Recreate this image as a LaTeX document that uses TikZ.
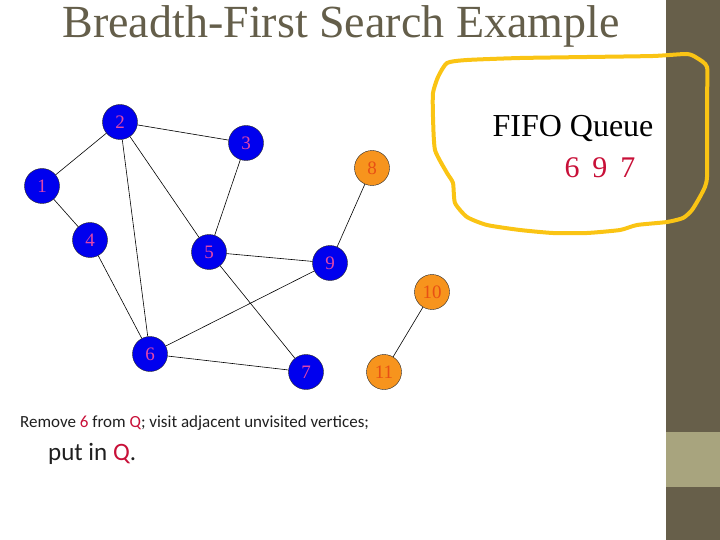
\documentclass[tikz,border=0pt]{standalone}
\usepackage{fontspec}
\setmainfont{Liberation Serif}
\newfontfamily\slidesans{Carlito}
\usepackage{xcolor}
\definecolor{barbrown}{RGB}{103,95,74}
\definecolor{barlight}{RGB}{168,164,126}
\definecolor{titlegray}{RGB}{100,94,74}
\definecolor{blobyellow}{RGB}{250,196,20}
\definecolor{qred}{RGB}{200,16,56}
\definecolor{lblpink}{RGB}{226,70,170}
\definecolor{vblue}{RGB}{0,0,238}
\definecolor{vorange}{RGB}{247,148,29}
\definecolor{lblorange}{RGB}{232,80,20}

\begin{document}
\begin{tikzpicture}[x=1pt,y=-1pt,
  vtx/.style={circle,draw=black!85,fill=vblue,minimum size=35pt,inner sep=0pt,
    text=lblpink,font=\fontsize{19}{19}\selectfont},
  vtxo/.style={vtx,fill=vorange,text=lblorange},
  edge/.style={black,line width=0.6pt}]
\useasboundingbox (0,0) rectangle (720,540);
%%%%%%%%%%%%%%%% side bar
\fill[barbrown] (666,0) rectangle (720,540);
\fill[barlight] (666,432) rectangle (720,487);
%%%%%%%%%%%%%%%% title
\node[text=titlegray,font=\fontsize{46}{46}\selectfont,anchor=base] (title) at (341,38) {Breadth-First Search Example};
%%%%%%%%%%%%%%%% vertices
\node[vtx] (v1) at (42,186) {1};
\node[vtx] (v2) at (120,122) {2};
\node[vtx] (v3) at (246,143) {3};
\node[vtx] (v4) at (90,240) {4};
\node[vtx] (v5) at (209,252) {5};
\node[vtx] (v6) at (150,354) {6};
\node[vtx] (v7) at (306,372) {7};
\node[vtxo] (v8) at (372,168) {8};
\node[vtx] (v9) at (330,263) {9};
\node[vtxo] (v10) at (432,292) {10};
\node[vtxo] (v11) at (384,372) {11};
%%%%%%%%%%%%%%%% edges
\draw[edge] (v1) -- (v2);
\draw[edge] (v1) -- (v4);
\draw[edge] (v2) -- (v3);
\draw[edge] (v2) -- (v5);
\draw[edge] (v2) -- (v6);
\draw[edge] (v3) -- (v5);
\draw[edge] (v4) -- (v6);
\draw[edge] (v5) -- (v9);
\draw[edge] (v5) -- (v7);
\draw[edge] (v6) -- (v9);
\draw[edge] (v6) -- (v7);
\draw[edge] (v8) -- (v9);
\draw[edge] (v10) -- (v11);
%%%%%%%%%%%%%%%% queue
\draw[blobyellow,line width=4pt,line join=round]
  plot[smooth cycle,tension=0.35] coordinates{(447,63) (467,60) (520,58) (587,57) (653,56)
  (687,54) (697,58) (707,67) (707,100) (707,177) (702,193) (692,210) (683,218)
  (667,222) (637,225) (620,230) (587,233) (553,233) (520,230) (487,225) (467,217)
  (455,203) (453,183) (447,173) (435,150) (433,117) (433,93) (438,77)};
\node[font=\fontsize{32}{32}\selectfont,anchor=base] (fifo) at (573,137) {FIFO Queue};
\node[text=qred,font=\fontsize{30}{30}\selectfont,anchor=base] (queue) at (600,178) {6\hspace{13pt}9\hspace{13pt}7};
%%%%%%%%%%%%%%%% caption
\node[font=\slidesans\fontsize{17}{17}\selectfont,anchor=base west,inner sep=0pt,text=black!88] (step) at (20,427)
  {Remove {\color{qred}6} from {\color{qred}Q}; visit adjacent unvisited vertices;};
\node[font=\slidesans\fontsize{25}{25}\selectfont,anchor=base west,inner sep=0pt,text=black!88] (put) at (48,460)
  {put in {\color{qred}Q}.};
\end{tikzpicture}
\end{document}
